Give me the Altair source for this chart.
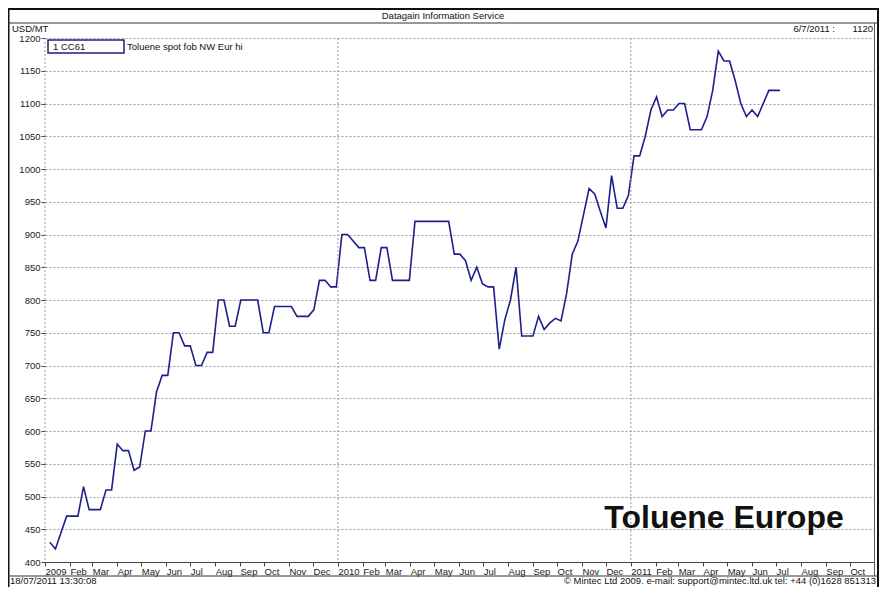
import altair as alt
import pandas as pd

# Weekly price readings (USD/MT), Toluene spot fob NW Eur hi, from 7 Jan 2009 to 6 Jul 2011
prices = [
    430, 420, 445, 470, 470, 470, 515, 480, 480, 480,
    510, 510, 580, 570, 570, 540, 545, 600, 600, 660,
    685, 685, 750, 750, 730, 730, 700, 700, 720, 720,
    800, 800, 760, 760, 800, 800, 800, 800, 750, 750,
    790, 790, 790, 790, 775, 775, 775, 785, 830, 830,
    820, 820, 900, 900, 890, 880, 880, 830, 830, 880,
    880, 830, 830, 830, 830, 920, 920, 920, 920, 920,
    920, 920, 870, 870, 860, 830, 850, 825, 820, 820,
    725, 770, 800, 850, 745, 745, 745, 775, 755, 765,
    772, 768, 810, 870, 890, 930, 970, 962, 935, 910,
    990, 940, 940, 960, 1020, 1020, 1050, 1090, 1110, 1080,
    1090, 1090, 1100, 1100, 1060, 1060, 1060, 1080, 1120, 1180,
    1165, 1165, 1135, 1100, 1080, 1090, 1080, 1100, 1120, 1120,
    1120,
]
first_week = "2009-01-07"
year_lines = ["2009-01-01", "2010-01-01", "2011-01-01"]
y_ticks = list(range(400, 1201, 50))

NAVY = "#1e1e8c"
FONT = "Liberation Sans"

dates = pd.date_range(first_week, periods=len(prices), freq="7D")
df = pd.DataFrame({"date": dates, "price": prices})

month_ticks = [alt.DateTime(year=y, month=m, date=1)
               for y in (2009, 2010, 2011) for m in range(1, 13)
               if not (y == 2011 and m > 10)]

x_scale = alt.Scale(domain=[alt.DateTime(year=2009, month=1, date=1),
                            alt.DateTime(year=2011, month=10, date=31)])
y_scale = alt.Scale(domain=[400, 1200], nice=False)

x_axis = alt.Axis(values=month_ticks, grid=False,
                  labelExpr="month(datum.value) == 0 ? timeFormat(datum.value, '%Y') : timeFormat(datum.value, '%b')",
                  labelAlign="left", labelBaseline="top", labelPadding=0,
                  labelFlush=False, labelOverlap=False, labelBound=False,
                  labelSeparation=0,
                  labelFont=FONT, labelFontSize=9.5, labelColor="#222",
                  tickSize=4, tickColor="#444", domainColor="#444")

line = alt.Chart(df).mark_line(color=NAVY, strokeWidth=1.6).encode(
    x=alt.X("date:T", scale=x_scale, title=None, axis=x_axis),
    y=alt.Y("price:Q", scale=y_scale, title=None,
            axis=alt.Axis(values=y_ticks, format="d", grid=True, gridDash=[2, 2],
                          gridColor="#9a9a9a", domain=False, tickSize=4,
                          tickColor="#444", labelPadding=1, labelFont=FONT,
                          labelFontSize=9.5, labelColor="#222")),
)

years = alt.Chart(pd.DataFrame({"date": pd.to_datetime(year_lines)})).mark_rule(
    color="#9a9a9a", strokeDash=[2, 2], strokeWidth=1).encode(
    x=alt.X("date:T", scale=x_scale, title=None, axis=x_axis))

dummy = alt.Data(values=[{"k": 1}])


def txt(s, x, y, align="left", size=9.5, bold=False, baseline="middle"):
    return alt.Chart(dummy).mark_text(
        text=s, align=align, baseline=baseline, font=FONT, fontSize=size,
        fontWeight="bold" if bold else "normal", color="#111").encode(
        x=alt.value(x), y=alt.value(y))


def rule(x1, x2, y1, y2, w=1, c="#222"):
    return alt.Chart(dummy).mark_rule(color=c, strokeWidth=w).encode(
        x=alt.value(x1), x2=alt.value(x2), y=alt.value(y1), y2=alt.value(y2))


frame = [
    rule(-37, 833, -29, -29, 2, "#111"),
    rule(-36.5, -36.5, -30, 549, 2, "#111"),
    rule(833, 833, -30, 549, 2, "#111"),
    rule(-37, 833, -15, -15, 1, "#333"),
    rule(-37, 833, 538, 538, 1, "#333"),
    rule(829.5, 829.5, -15, 538, 1, "#555"),
]

legend_box = alt.Chart(dummy).mark_rect(fill="white", stroke=NAVY, strokeWidth=1.5).encode(
    x=alt.value(3), x2=alt.value(79), y=alt.value(2), y2=alt.value(15))

texts = [
    txt("Datagain Information Service", 398, -22, "center"),
    txt("USD/MT", -33, -9),
    txt("6/7/2011 :", 790, -9, "right"),
    txt("1120", 828, -9, "right"),
    txt("1 CC61", 8, 9),
    txt("Toluene spot fob NW Eur hi", 82, 9),
    txt("18/07/2011 13:30:08", -35, 543),
    txt("\u00a9 Mintec Ltd 2009. e-mail: support@mintec.ltd.uk tel: +44 (0)1628 851313", 831, 543, "right"),
    txt("Toluene Europe", 679, 490, "center", 32, True, "alphabetic"),
]

chart = alt.layer(line, years, *frame, legend_box, *texts).properties(
    width=829, height=524,
    padding={"left": 37, "top": 30, "right": 10, "bottom": 25},
    autosize=alt.AutoSizeParams(type="none"),
    background="white",
).configure_view(stroke=None)

chart.save("out.html", embed_options={"renderer": "svg", "actions": False})
